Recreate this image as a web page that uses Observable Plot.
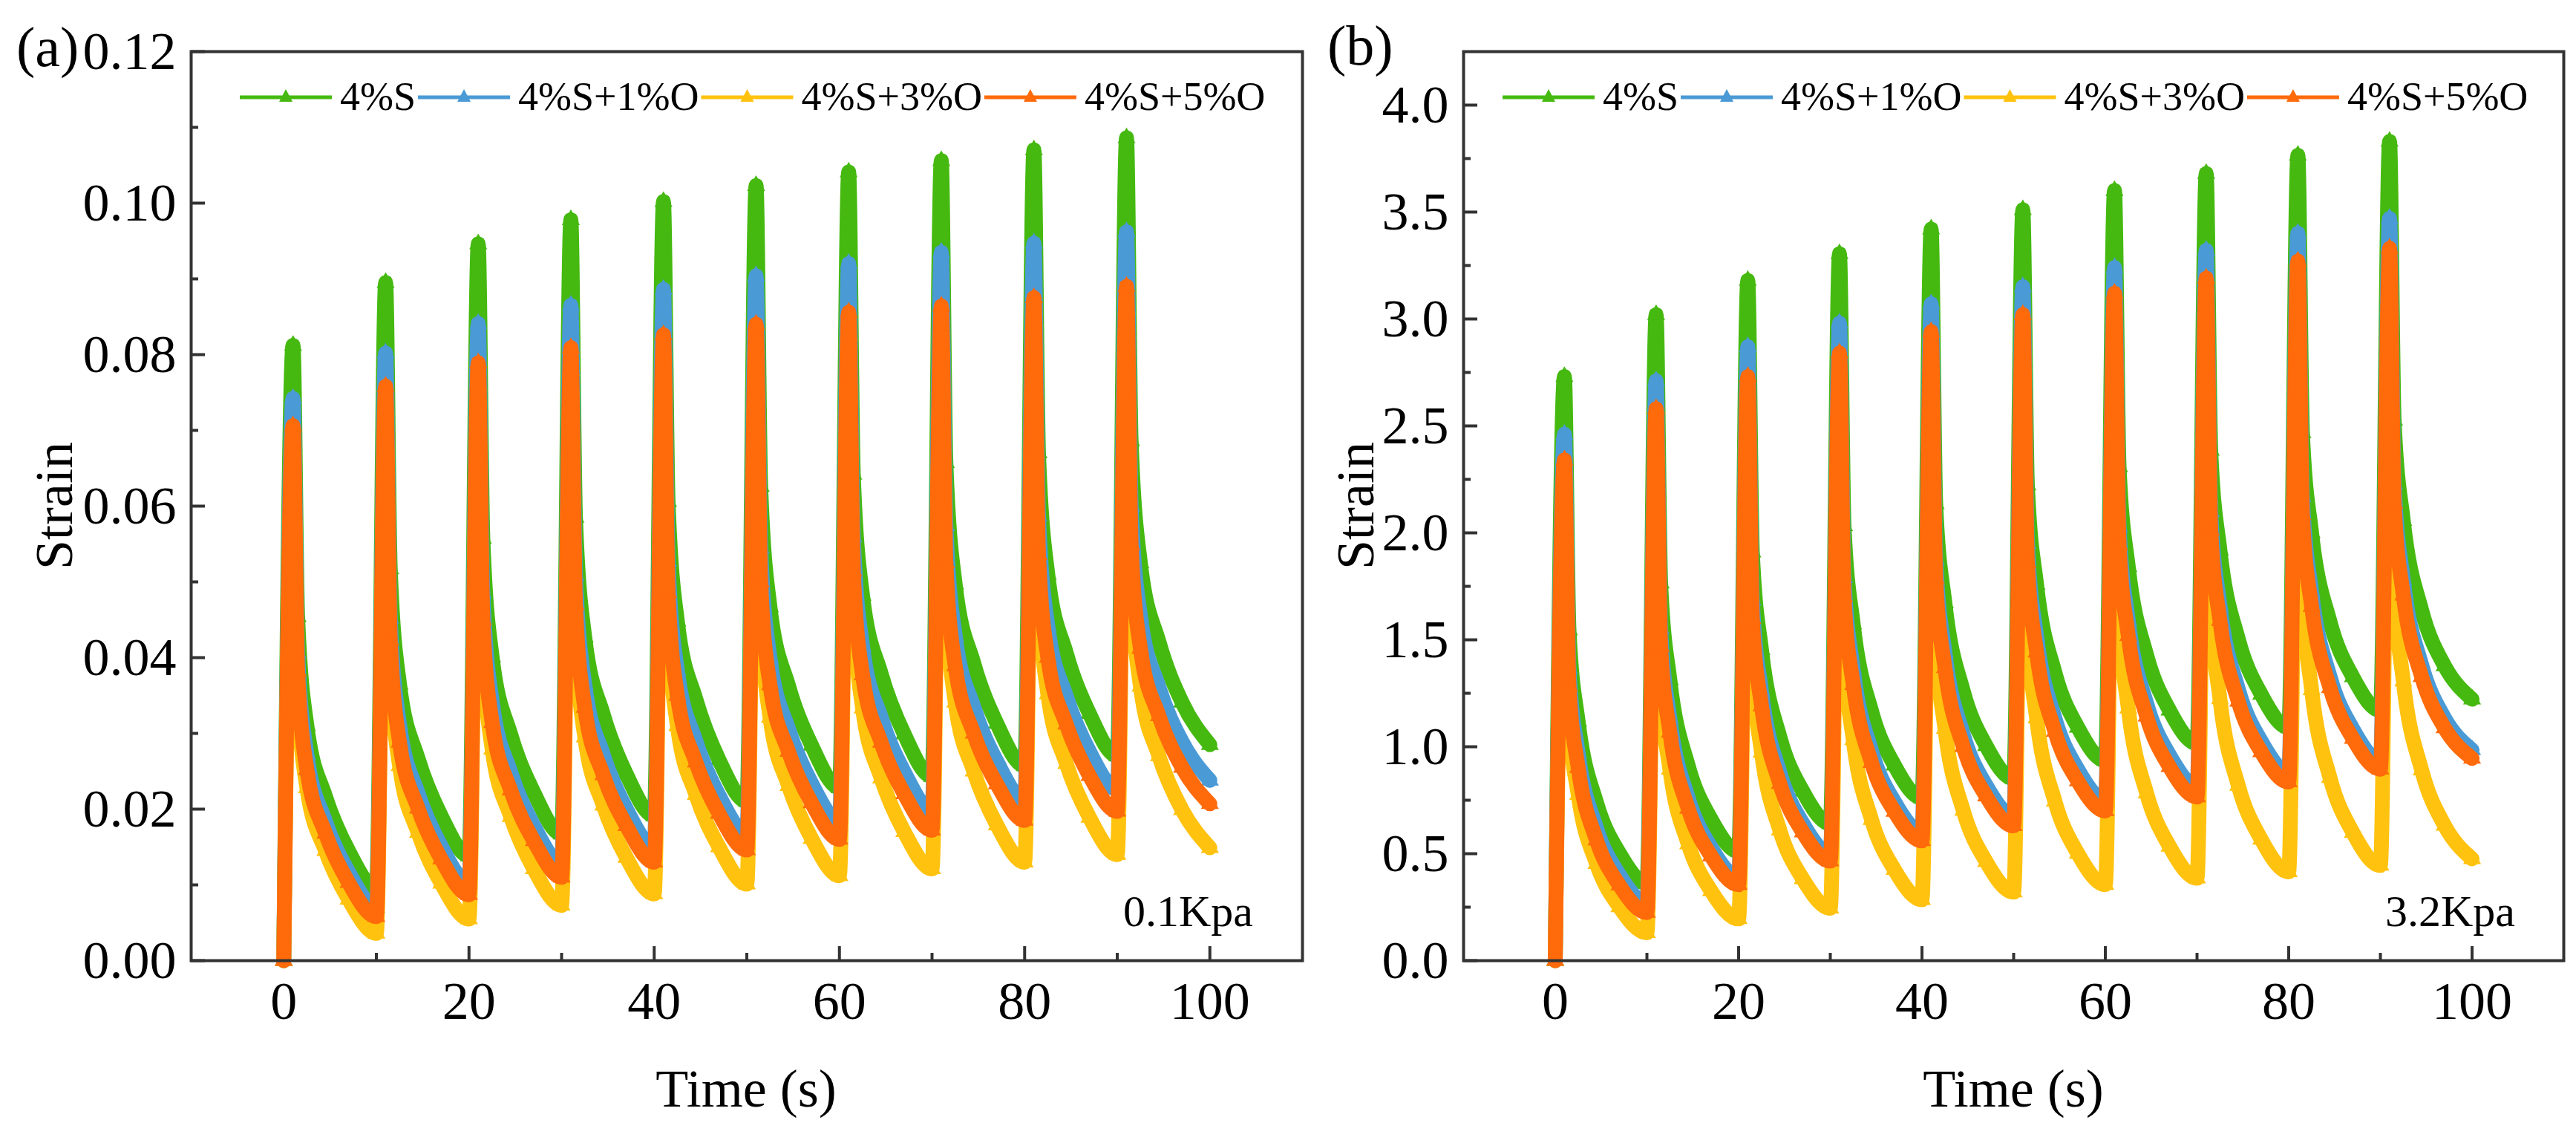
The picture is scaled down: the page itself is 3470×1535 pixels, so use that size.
<!DOCTYPE html>
<html><head><meta charset="utf-8">
<script src="https://cdn.jsdelivr.net/npm/d3@7"></script>
<script src="https://cdn.jsdelivr.net/npm/@observablehq/plot@0.6"></script>
<style>
html,body{margin:0;padding:0;background:#fff;}
#wrap{position:relative;width:3470px;height:1535px;overflow:hidden;background:#fff;font-family:"Liberation Serif","Times New Roman",serif;}
#wrap svg{position:absolute;top:0;}
#wrap svg text{font-family:"Liberation Serif","Times New Roman",serif;}
</style></head><body><div id="wrap"></div>
<script>
// ---------- data ----------
const seriesNames = ["4%S", "4%S+1%O", "4%S+3%O", "4%S+5%O"];
const seriesColors = ["#45b910", "#4a9ad6", "#ffc20e", "#ff6a0a"];
const cycleStarts = [0, 10, 20, 30, 40, 50, 60, 70, 80, 90];
// time within a cycle (s) of each value in a row: peak, recovery points, end of cycle
const relTimes = [1, 1.5, 2.5, 4.5, 7, 10];
const xTicks = [0, 20, 40, 60, 80, 100];
const xMinor = [10, 30, 50, 70, 90];
const yTicksA = [0, 0.02, 0.04, 0.06, 0.08, 0.10, 0.12];
const yMinorA = [0.01, 0.03, 0.05, 0.07, 0.09, 0.11];
const yTicksB = [0, 0.5, 1.0, 1.5, 2.0, 2.5, 3.0, 3.5, 4.0];
const yMinorB = [0.25, 0.75, 1.25, 1.75, 2.25, 2.75, 3.25, 3.75];

// panel (a) 0.1 kPa : rows = cycles, [peak, t+1.5, t+2.5, t+4.5, t+7, t+10]
const a_S = [
  [0.0812,0.0454,0.0310,0.0217,0.0145,0.0095],
  [0.0895,0.0517,0.0365,0.0267,0.0191,0.0138],
  [0.0946,0.0557,0.0401,0.0299,0.0222,0.0167],
  [0.0978,0.0585,0.0427,0.0325,0.0246,0.0191],
  [0.1002,0.0606,0.0448,0.0345,0.0265,0.0210],
  [0.1023,0.0626,0.0467,0.0363,0.0284,0.0228],
  [0.1041,0.0642,0.0482,0.0379,0.0299,0.0243],
  [0.1056,0.0657,0.0497,0.0393,0.0313,0.0257],
  [0.1070,0.0670,0.0510,0.0406,0.0326,0.0270],
  [0.1086,0.0686,0.0525,0.0421,0.0341,0.0285]
];
const a_S1O = [
  [0.0742,0.0406,0.0272,0.0184,0.0117,0.0070],
  [0.0802,0.0452,0.0312,0.0221,0.0151,0.0102],
  [0.0841,0.0485,0.0342,0.0249,0.0178,0.0128],
  [0.0865,0.0508,0.0365,0.0272,0.0200,0.0150],
  [0.0886,0.0527,0.0383,0.0290,0.0218,0.0168],
  [0.0904,0.0544,0.0400,0.0306,0.0234,0.0184],
  [0.0920,0.0559,0.0415,0.0321,0.0249,0.0198],
  [0.0935,0.0574,0.0429,0.0335,0.0263,0.0212],
  [0.0947,0.0587,0.0442,0.0349,0.0276,0.0226],
  [0.0962,0.0600,0.0455,0.0361,0.0289,0.0238]
];
const a_S3O = [
  [0.0676,0.0356,0.0228,0.0145,0.0081,0.0036],
  [0.0728,0.0392,0.0257,0.0169,0.0102,0.0055],
  [0.0759,0.0416,0.0279,0.0190,0.0121,0.0073],
  [0.0779,0.0434,0.0295,0.0205,0.0136,0.0088],
  [0.0796,0.0449,0.0310,0.0219,0.0150,0.0101],
  [0.0810,0.0461,0.0321,0.0231,0.0161,0.0112],
  [0.0826,0.0474,0.0333,0.0241,0.0170,0.0121],
  [0.0834,0.0482,0.0341,0.0250,0.0179,0.0130],
  [0.0845,0.0493,0.0352,0.0260,0.0189,0.0140],
  [0.0860,0.0505,0.0362,0.0270,0.0199,0.0149]
];
const a_S5O = [
  [0.0706,0.0382,0.0252,0.0168,0.0103,0.0058],
  [0.0758,0.0423,0.0288,0.0201,0.0134,0.0087],
  [0.0789,0.0450,0.0314,0.0225,0.0158,0.0110],
  [0.0809,0.0470,0.0334,0.0245,0.0178,0.0130],
  [0.0826,0.0486,0.0350,0.0262,0.0194,0.0146],
  [0.0840,0.0500,0.0364,0.0276,0.0208,0.0160],
  [0.0856,0.0514,0.0377,0.0288,0.0220,0.0172],
  [0.0864,0.0525,0.0389,0.0300,0.0233,0.0185],
  [0.0875,0.0536,0.0400,0.0312,0.0244,0.0197],
  [0.0890,0.0549,0.0412,0.0323,0.0255,0.0207]
];

// panel (b) 3.2 kPa
const b_S = [
  [2.73,1.545,1.118,0.739,0.502,0.36],
  [3.02,1.765,1.313,0.912,0.661,0.51],
  [3.18,1.910,1.453,1.046,0.792,0.64],
  [3.305,2.033,1.574,1.167,0.913,0.76],
  [3.42,2.135,1.672,1.261,1.004,0.85],
  [3.51,2.223,1.759,1.347,1.090,0.935],
  [3.60,2.308,1.842,1.429,1.170,1.015],
  [3.68,2.385,1.919,1.504,1.245,1.09],
  [3.765,2.468,2.000,1.585,1.326,1.17],
  [3.83,2.526,2.057,1.639,1.378,1.222]
];
const b_S1O = [
  [2.46,1.365,0.971,0.620,0.401,0.27],
  [2.71,1.550,1.132,0.761,0.529,0.39],
  [2.87,1.685,1.258,0.879,0.642,0.50],
  [2.98,1.790,1.362,0.981,0.743,0.60],
  [3.07,1.873,1.441,1.058,0.819,0.675],
  [3.15,1.950,1.518,1.134,0.894,0.75],
  [3.24,2.028,1.591,1.203,0.961,0.815],
  [3.32,2.100,1.661,1.270,1.026,0.88],
  [3.40,2.168,1.724,1.329,1.083,0.935],
  [3.47,2.228,1.780,1.383,1.134,0.985]
];
const b_S3O = [
  [2.15,1.140,0.776,0.453,0.251,0.13],
  [2.38,1.288,0.894,0.545,0.326,0.195],
  [2.52,1.383,0.973,0.609,0.382,0.245],
  [2.62,1.453,1.032,0.659,0.425,0.285],
  [2.71,1.515,1.085,0.702,0.463,0.32],
  [2.79,1.573,1.134,0.745,0.501,0.355],
  [2.87,1.628,1.180,0.783,0.534,0.385],
  [2.94,1.678,1.223,0.819,0.567,0.415],
  [3.01,1.728,1.266,0.855,0.599,0.445],
  [3.07,1.773,1.306,0.891,0.632,0.476]
];
const b_S5O = [
  [2.34,1.283,0.902,0.563,0.352,0.225],
  [2.58,1.468,1.067,0.711,0.489,0.355],
  [2.73,1.598,1.190,0.827,0.601,0.465],
  [2.84,1.700,1.290,0.925,0.697,0.56],
  [2.94,1.785,1.369,1.000,0.769,0.63],
  [3.02,1.860,1.442,1.071,0.839,0.70],
  [3.12,1.943,1.519,1.142,0.906,0.765],
  [3.19,2.013,1.589,1.212,0.976,0.835],
  [3.27,2.083,1.655,1.275,1.038,0.895],
  [3.33,2.138,1.708,1.327,1.088,0.945]
];

// ---------- build ----------
const FONT = '"Liberation Serif", "Times New Roman", serif';
const H = 1535, MT = 69, MB = 242;

function toPoints(rows) {
  const pts = [{t: 0, v: 0}];
  rows.forEach((row, k) => row.forEach((v, i) => pts.push({t: cycleStarts[k] + relTimes[i], v})));
  return pts;
}

function panel({rowsList, yDomain, yTicks, yMinor, fmt, left, width, mL, mR}) {
  const ph = H - MT - MB, pw = width - mL - mR;
  const marks = [
    Plot.tickX(xTicks, {x: d => d, insetTop: ph - 19, stroke: "#333", strokeWidth: 4}),
    Plot.tickX(xMinor, {x: d => d, insetTop: ph - 10, stroke: "#333", strokeWidth: 4}),
    Plot.tickY(yTicks, {y: d => d, insetRight: pw - 19, stroke: "#333", strokeWidth: 4}),
    Plot.tickY(yMinor, {y: d => d, insetRight: pw - 10, stroke: "#333", strokeWidth: 4})
  ];
  rowsList.forEach((rows, i) => {
    const pts = toPoints(rows);
    marks.push(Plot.line(pts, {x: "t", y: "v", stroke: seriesColors[i], strokeWidth: 20,
      curve: "monotone-x", strokeLinejoin: "round", strokeLinecap: "round"}));
    marks.push(Plot.dot(pts, {x: "t", y: "v", symbol: "triangle", r: 9, fill: seriesColors[i], stroke: "none"}));
  });
  marks.push(Plot.axisX(xTicks, {tickSize: 0, tickPadding: 27, fontSize: 72, fontFamily: FONT, label: null, fill: "#000"}));
  marks.push(Plot.axisY(yTicks, {tickSize: 0, tickPadding: 20, fontSize: 72, fontFamily: FONT, label: null, fill: "#000", tickFormat: fmt}));
  marks.push(Plot.frame({stroke: "#333", strokeWidth: 4}));
  const svg = Plot.plot({
    width, height: H, marginLeft: mL, marginRight: mR, marginTop: MT, marginBottom: MB,
    x: {domain: [-10, 110]},
    y: {domain: yDomain},
    style: {fontFamily: FONT, fontSize: "72px", color: "#000", background: "transparent", overflow: "visible"},
    marks
  });
  svg.style.left = left + "px";
  svg.style.position = "absolute";
  document.getElementById("wrap").appendChild(svg);
}

panel({rowsList: [a_S, a_S1O, a_S3O, a_S5O], yDomain: [0, 0.12], yTicks: yTicksA, yMinor: yMinorA,
  fmt: d3.format(".2f"), left: 0, width: 1770, mL: 257, mR: 16});
panel({rowsList: [b_S, b_S1O, b_S3O, b_S5O], yDomain: [0, 4.25], yTicks: yTicksB, yMinor: yMinorB,
  fmt: d3.format(".1f"), left: 1770, width: 1700, mL: 201, mR: 17});

// ---------- overlay texts & legends ----------
const ov = d3.select("#wrap").append("svg")
  .attr("width", 3470).attr("height", 1535)
  .style("left", "0px").style("pointer-events", "none")
  .attr("font-family", FONT);

function txt(x, y, s, size, anchor = "start", rot = 0) {
  const t = ov.append("text").attr("font-size", size).attr("text-anchor", anchor)
    .attr("font-family", FONT).attr("fill", "#000").text(s);
  if (rot) t.attr("transform", `translate(${x},${y}) rotate(${rot})`);
  else t.attr("x", x).attr("y", y);
  return t;
}
txt(22, 89, "(a)", 76);
txt(1788, 87, "(b)", 76);
txt(97, 681, "Strain", 72, "middle", -90);
txt(1850, 681, "Strain", 72, "middle", -90);
txt(1005, 1490, "Time (s)", 72, "middle");
txt(2712, 1490, "Time (s)", 72, "middle");
txt(1688, 1247, "0.1Kpa", 60, "end");
txt(3388, 1247, "3.2Kpa", 60, "end");

function legend(x0, yc) {
  let x = x0;
  seriesNames.forEach((name, i) => {
    ov.append("line").attr("x1", x).attr("x2", x + 124).attr("y1", yc).attr("y2", yc)
      .attr("stroke", seriesColors[i]).attr("stroke-width", 5);
    const cx = x + 62;
    ov.append("path").attr("d", `M${cx},${yc - 11}L${cx + 9},${yc + 6}L${cx - 9},${yc + 6}Z`).attr("fill", seriesColors[i]);
    x += 124 + 11;
    const t = txt(x, yc + 17, name, 54);
    x += t.node().getComputedTextLength() + 3;
  });
}
legend(323, 131);
legend(2024, 131);
</script></body></html>
